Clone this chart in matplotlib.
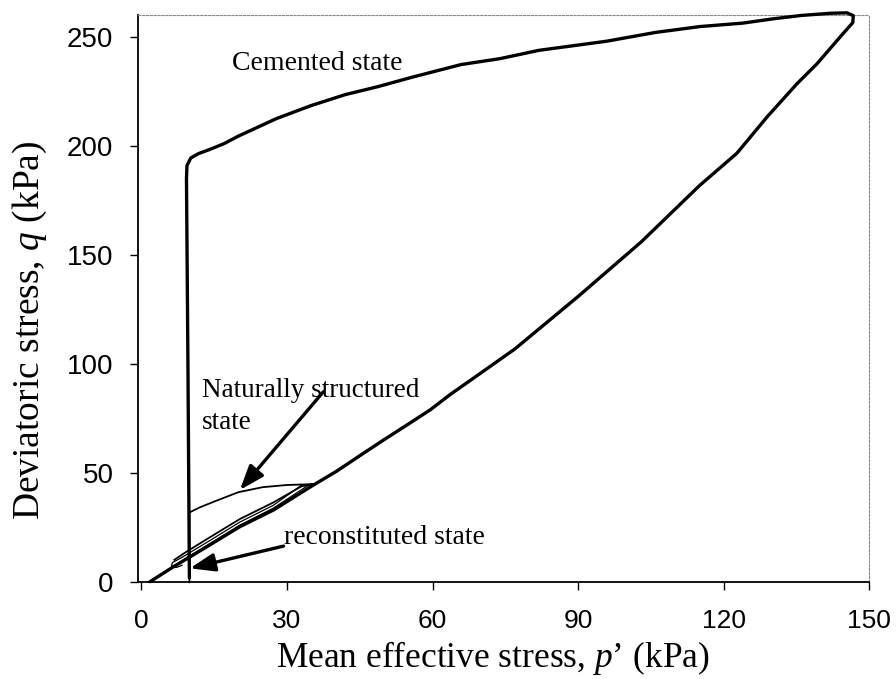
import matplotlib
matplotlib.use("Agg")
import matplotlib.pyplot as plt

plt.rcParams["mathtext.fontset"] = "custom"
plt.rcParams["mathtext.rm"] = "Liberation Serif"
plt.rcParams["mathtext.it"] = "Liberation Serif:italic"

# Cemented specimen: constant-p' rise, failure envelope, then unloading branch
cem_p = [9.9, 9.6, 9.3, 9.4, 10.2, 11.8, 14.0, 17.0, 20.0, 27.8, 35.0, 42.0,
         48.8, 55.8, 65.9, 73.9, 81.9, 95.9, 105.9, 115.1, 124.0, 130.0,
         136.0, 142.0, 145.4, 146.7, 146.6, 144.6, 139.2, 135.1, 128.9, 122.7,
         115.1, 103.0, 90.0, 77.0, 70.0, 63.6, 59.5, 55.0, 49.9, 45.0, 40.3,
         35.4, 27.2, 20.3, 13.5, 6.6, 1.8]
cem_q = [2.0, 100.0, 185.0, 191.0, 194.5, 196.5, 198.3, 201.0, 204.5, 212.5,
         218.5, 223.5, 227.2, 231.5, 237.3, 240.0, 243.8, 248.0, 252.0, 254.7,
         256.3, 258.2, 259.8, 260.8, 261.0, 259.7, 256.5, 251.5, 237.6, 228.5,
         213.2, 196.6, 182.0, 156.0, 131.0, 107.0, 96.0, 86.0, 79.0, 72.5,
         65.2, 58.0, 51.0, 44.5, 33.1, 25.5, 16.3, 7.1, 0.3]

# Naturally structured specimen
ns_p = [9.9, 9.9, 12.0, 15.0, 20.0, 25.0, 30.0, 35.5, 33.0, 27.2, 20.3, 13.5,
        9.0, 6.8]
ns_q = [0.0, 32.0, 34.3, 37.0, 41.3, 43.6, 44.6, 45.0, 44.0, 36.6, 29.0, 19.8,
        13.6, 10.3]

# Reconstituted specimen
rc_p = [1.5, 6.0, 13.5, 20.3, 27.2, 34.5, 33.0, 27.2, 20.3, 13.5, 8.5, 6.4,
        6.2, 7.2, 8.4]
rc_q = [0.0, 6.6, 16.9, 26.2, 34.0, 44.6, 44.5, 35.3, 27.6, 18.3, 11.6, 9.0,
        7.4, 6.8, 7.8]

x_ticks = [0, 30, 60, 90, 120, 150]
y_ticks = [0, 50, 100, 150, 200, 250]

serif = "Liberation Serif"
sans = "Liberation Sans"

fig = plt.figure(figsize=(8.96, 6.79), dpi=100)
ax = fig.add_axes([0.1545, 0.1424, 0.8157, 0.8355])

ax.plot(cem_p, cem_q, color="black", lw=2.4, solid_joinstyle="round",
        solid_capstyle="round", clip_on=False, zorder=3)
ax.plot(ns_p, ns_q, color="black", lw=1.3, clip_on=False, zorder=3)
ax.plot(rc_p, rc_q, color="black", lw=0.9, clip_on=False, zorder=3)

ax.set_xlim(-0.6, 150)
ax.set_ylim(0, 260)
ax.set_xticks(x_ticks)
ax.set_yticks(y_ticks)
ax.set_xticklabels([str(v) for v in x_ticks], family=sans, fontsize=19)
ax.set_yticklabels([str(v) for v in y_ticks], family=sans, fontsize=20)
ax.tick_params(axis="x", direction="out", length=6, width=1, pad=13)
ax.tick_params(axis="y", direction="out", length=6, width=1, pad=12)

for side in ("left", "bottom"):
    ax.spines[side].set_linewidth(1.3)
    ax.spines[side].set_color("black")
for side in ("top", "right"):
    ax.spines[side].set_linewidth(0.8)
    ax.spines[side].set_color("#8a8a8a")
    ax.spines[side].set_linestyle((0, (2, 1.5)))

ax.set_xlabel("Mean effective stress, $p$\u2019 (kPa)", family=serif,
              fontsize=25.5)
ax.set_ylabel("Deviatoric stress, $q$ (kPa)", family=serif, fontsize=27)
ax.xaxis.set_label_coords(0.485, -0.133)
ax.xaxis.label.set_va("center")
ax.yaxis.set_label_coords(-0.148, 0.445)
ax.yaxis.label.set_va("center")

ax.text(18.6, 238, "Cemented state", family=serif, fontsize=20,
        va="center", ha="left")
ax.text(12.4, 93.5, "Naturally structured\nstate", family=serif,
        fontsize=19.5, va="top", ha="left", linespacing=1.35)
ax.text(29.3, 20.5, "reconstituted state", family=serif, fontsize=20,
        va="center", ha="left")

arrow = dict(arrowstyle="-|>,head_length=0.6,head_width=0.22", lw=2.4,
             color="black", mutation_scale=25, shrinkA=0, shrinkB=0)
ax.annotate("", xy=(20.3, 42.3), xytext=(37.5, 87.3), arrowprops=arrow)
ax.annotate("", xy=(10.0, 6.4), xytext=(29.3, 16.6), arrowprops=arrow)

fig.savefig("out.png", dpi=100, facecolor="white")
